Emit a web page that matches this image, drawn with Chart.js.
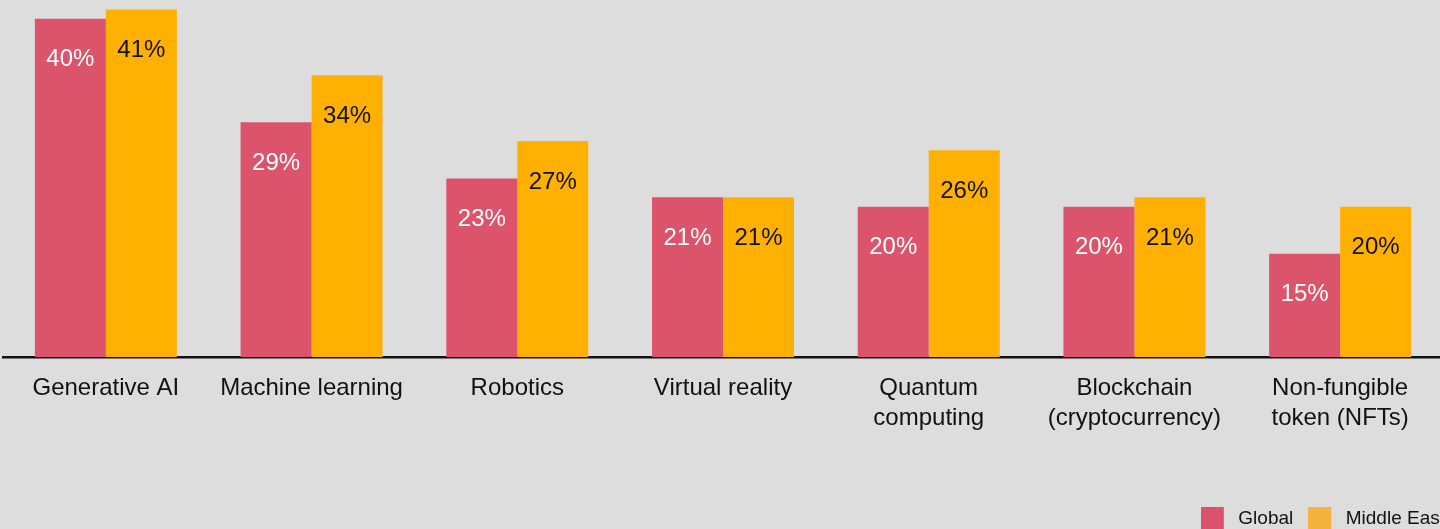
<!DOCTYPE html>
<html>
<head>
<meta charset="utf-8">
<script src="https://cdn.jsdelivr.net/npm/chart.js@4/dist/chart.umd.min.js"></script>
<style>
  html, body { margin: 0; padding: 0; background: #dddddd; overflow: hidden; }
  #wrap { position: absolute; left: 0; top: 0; width: 1460px; height: 538px; }
</style>
</head>
<body>
<div id="wrap"><canvas id="c" width="1460" height="538"></canvas></div>
<script>
const categories = [
  "Generative AI",
  "Machine learning",
  "Robotics",
  "Virtual reality",
  ["Quantum", "computing"],
  ["Blockchain", "(cryptocurrency)"],
  ["Non-fungible", "token (NFTs)"]
];
const globalValues = [40, 29, 23, 21, 20, 20, 15];
const middleEastValues = [41, 34, 27, 21, 26, 21, 20];
const seriesNames = ["Global", "Middle East"];

const FONT = "'Liberation Sans', Arial, sans-serif";
const barColors = ["#dc546c", "#ffb000"];
const legendColors = ["#db526c", "#f3b33d"];
const valueTextColors = ["#ffffff", "#111111"];

// Legend swatch: a 23px square with a little trailing space before the text
function swatch(color) {
  const cv = document.createElement("canvas");
  cv.width = 28;
  cv.height = 23;
  const g = cv.getContext("2d");
  g.fillStyle = color;
  g.fillRect(0, 0, 23, 23);
  return cv;
}
const swatches = legendColors.map(swatch);

// Percent labels printed inside the top of each bar
const valueLabels = {
  id: "valueLabels",
  afterDatasetsDraw(chart) {
    const ctx = chart.ctx;
    ctx.save();
    ctx.font = "24px " + FONT;
    ctx.textAlign = "center";
    ctx.textBaseline = "middle";
    chart.data.datasets.forEach((ds, di) => {
      const meta = chart.getDatasetMeta(di);
      ctx.fillStyle = valueTextColors[di];
      meta.data.forEach((bar, i) => {
        ctx.fillText(ds.data[i] + "%", bar.x, bar.y + 41);
      });
    });
    ctx.restore();
  }
};

new Chart(document.getElementById("c"), {
  type: "bar",
  data: {
    labels: categories,
    datasets: [
      { label: seriesNames[0], data: globalValues, backgroundColor: barColors[0] },
      { label: seriesNames[1], data: middleEastValues, backgroundColor: barColors[1] }
    ]
  },
  options: {
    responsive: false,
    animation: false,
    layout: { padding: { left: 3, right: 0, top: 0, bottom: 0 } },
    datasets: { bar: { barPercentage: 1, categoryPercentage: 0.69, borderWidth: 0 } },
    scales: {
      x: {
        grid: { display: false, drawTicks: false },
        border: { display: true, color: "#111111", width: 2.5 },
        ticks: { color: "#111111", font: { family: FONT, size: 24, lineHeight: 1.25 }, padding: 16, maxRotation: 0, autoSkip: false },
        afterFit(scale) { scale.height = 137; }
      },
      y: {
        position: "right",
        min: 4,
        max: 42,
        grid: { display: false, drawTicks: false },
        border: { display: false },
        ticks: { display: false },
        afterFit(scale) { scale.width = 17; }
      }
    },
    plugins: {
      tooltip: { enabled: false },
      legend: {
        position: "bottom",
        align: "end",
        labels: {
          color: "#111111",
          font: { family: FONT, size: 19 },
          usePointStyle: true,
          pointStyleWidth: 28,
          boxHeight: 23,
          padding: 15,
          generateLabels(chart) {
            const items = Chart.defaults.plugins.legend.labels.generateLabels(chart);
            items.forEach((it, i) => {
              it.pointStyle = swatches[i];
              it.fillStyle = legendColors[i];
              it.strokeStyle = legendColors[i];
              it.lineWidth = 0;
            });
            return items;
          }
        }
      }
    }
  },
  plugins: [valueLabels]
});
</script>
</body>
</html>
